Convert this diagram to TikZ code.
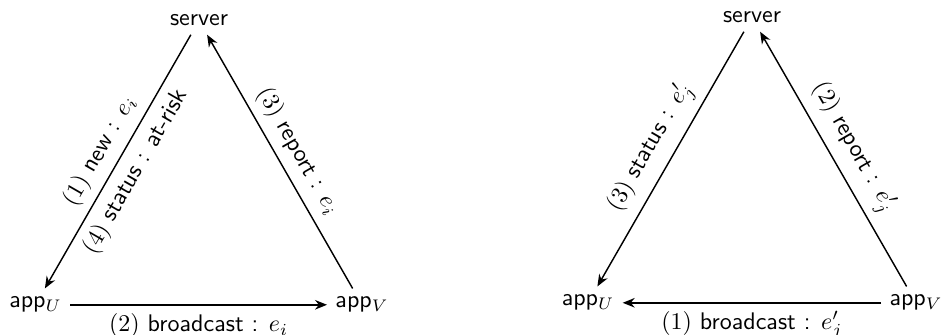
\documentclass[tikz,border=0pt]{standalone}
\usetikzlibrary{arrows.meta}
\begin{document}
\begin{tikzpicture}[x=0.4167pt,y=-0.4167pt,
  every node/.style={font=\sffamily},
  vtx/.style={anchor=base},
  conn/.style={semithick,-{Stealth[length=5pt,width=4pt]}},
  lbl/.style={sloped,font=\sffamily}]
\useasboundingbox (0,0) rectangle (941,335);
% left diagram
\node[vtx] (s1) at (199,26) {server};
\node[vtx] (u1) at (35.5,308) {app$_U$};
\node[vtx] (v1) at (362,308) {app$_V$};
\draw[conn] (s1) -- node[lbl,above] {$(1)$ new : $e_i$} node[lbl,below] {$(4)$ status : at-risk} (u1);
\draw[conn] (v1) -- node[lbl,above] {$(3)$ report : $e_i$} (s1);
\draw[conn] (u1) -- node[below] {$(2)$ broadcast : $e_i$} (v1);
% right diagram
\node[vtx] (s2) at (752,23) {server};
\node[vtx] (u2) at (588,306) {app$_U$};
\node[vtx] (v2) at (916,306) {app$_V$};
\draw[conn] (s2) -- node[lbl,above] {$(3)$ status : $e'_j$} (u2);
\draw[conn] (v2) -- node[lbl,above] {$(2)$ report : $e'_j$} (s2);
\draw[conn] (v2) -- node[below] {$(1)$ broadcast : $e'_j$} (u2);
\end{tikzpicture}
\end{document}
